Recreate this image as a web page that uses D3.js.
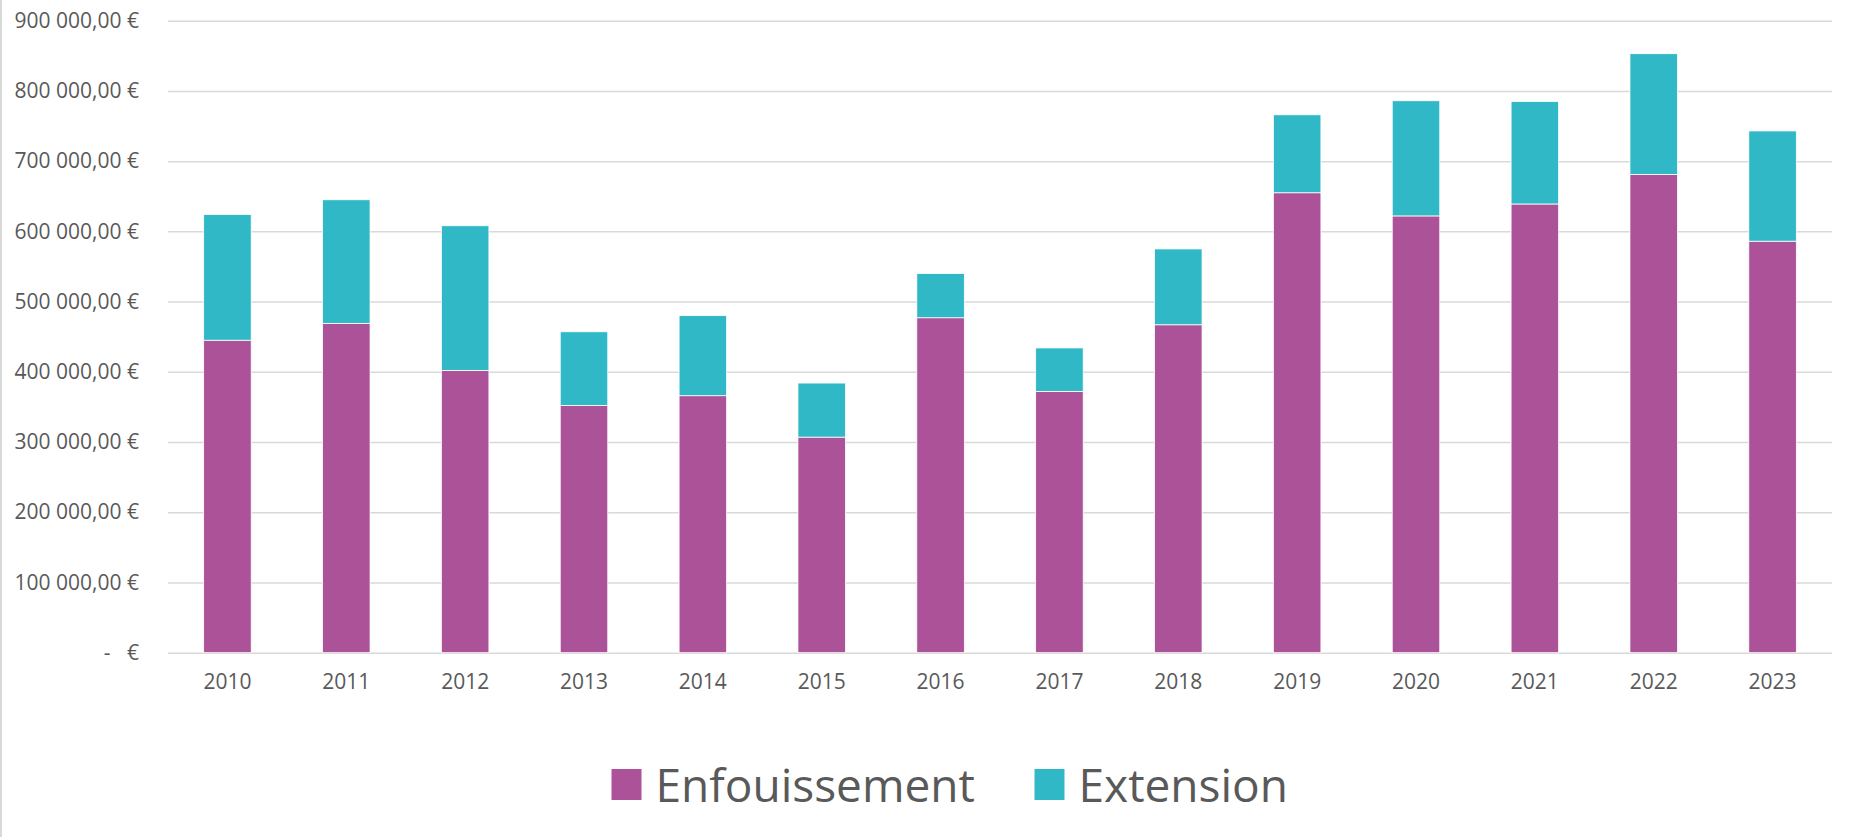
<!DOCTYPE html>
<html lang="fr">
<head>
  <meta charset="UTF-8">
  <title>Enfouissement / Extension</title>
  <script src="https://d3js.org/d3.v7.min.js"></script>
  <style>
    body, html { margin: 0; background: #fff; }
    svg { display: block; }
    text { font-family: "Open Sans", sans-serif; fill: #595959; }
  </style>
</head>
<body>
  <svg width="1869" height="837"></svg>
  <script>
    // data
    const years = ["2010","2011","2012","2013","2014","2015","2016","2017","2018","2019","2020","2021","2022","2023"];
    const enfouissement = [445000, 469000, 402000, 352000, 366000, 307000, 477000, 372000, 467000, 655000, 622000, 639000, 681000, 586000];
    const extension = [179000, 176000, 206000, 105000, 114000, 77000, 63000, 62000, 108000, 111000, 164000, 146000, 172000, 157000];
    const yTicks = [0, 100000, 200000, 300000, 400000, 500000, 600000, 700000, 800000, 900000];
    const seriesNames = ["Enfouissement", "Extension"];
    const colors = ["#ac5299", "#31b8c7"];

    const svg = d3.select("svg");
    const mLeft = 168, mRight = 1832, mTop = 20.7, mBottom = 652.7;

    // chart area border (only the left edge shows)
    svg.append("line").attr("x1", 1).attr("x2", 1).attr("y1", 0).attr("y2", 837)
      .attr("stroke", "#d9d9d9").attr("stroke-width", 2);

    const x = d3.scaleBand().domain(years).range([mLeft, mRight]).paddingInner(0.6).paddingOuter(0.3);
    const y = d3.scaleLinear().domain([0, 900000]).range([mBottom, mTop]);

    const fr = d3.formatLocale({decimal: ",", thousands: "\u00a0", grouping: [3], currency: ["", " €"]});
    const fmt = v => v === 0 ? "-\u00a0\u00a0\u00a0€" : fr.format(",.2f")(v) + " €";

    // gridlines + y labels
    const yAxis = svg.append("g").attr("transform", `translate(${mLeft},0)`)
      .call(d3.axisLeft(y).tickValues(yTicks).tickSize(-(mRight - mLeft)).tickPadding(29).tickFormat(fmt));
    yAxis.select(".domain").remove();
    yAxis.selectAll(".tick line").attr("stroke", "#d9d9d9").attr("stroke-width", 1.5);
    yAxis.selectAll(".tick text").attr("font-size", 21).attr("fill", "#595959")
      .style("white-space", "pre");

    // stacked bars
    const rows = years.map((yr, i) => ({year: yr, Enfouissement: enfouissement[i], Extension: extension[i]}));
    const stack = d3.stack().keys(seriesNames)(rows);
    svg.append("g").selectAll("g").data(stack).join("g")
      .attr("fill", (d, i) => colors[i])
      .selectAll("rect").data(d => d).join("rect")
      .attr("x", d => x(d.data.year))
      .attr("width", x.bandwidth())
      .attr("y", d => y(d[1]))
      .attr("height", d => y(d[0]) - y(d[1]))
      .attr("stroke", "#fff").attr("stroke-width", 0.8);

    // x labels
    const xAxis = svg.append("g").attr("transform", `translate(0,${mBottom})`)
      .call(d3.axisBottom(x).tickSize(0).tickPadding(21));
    xAxis.select(".domain").remove();
    xAxis.selectAll(".tick text").attr("font-size", 21).attr("fill", "#595959");

    // legend
    const legendX = [611.5, 1034.5];
    const legend = svg.append("g").selectAll("g").data(seriesNames).join("g")
      .attr("transform", (d, i) => `translate(${legendX[i]},769)`);
    legend.append("rect").attr("width", 30).attr("height", 31).attr("fill", (d, i) => colors[i]);
    legend.append("text").attr("x", 44).attr("y", 16).attr("dy", "0.36em")
      .attr("font-size", 46).text(d => d);
  </script>
</body>
</html>
